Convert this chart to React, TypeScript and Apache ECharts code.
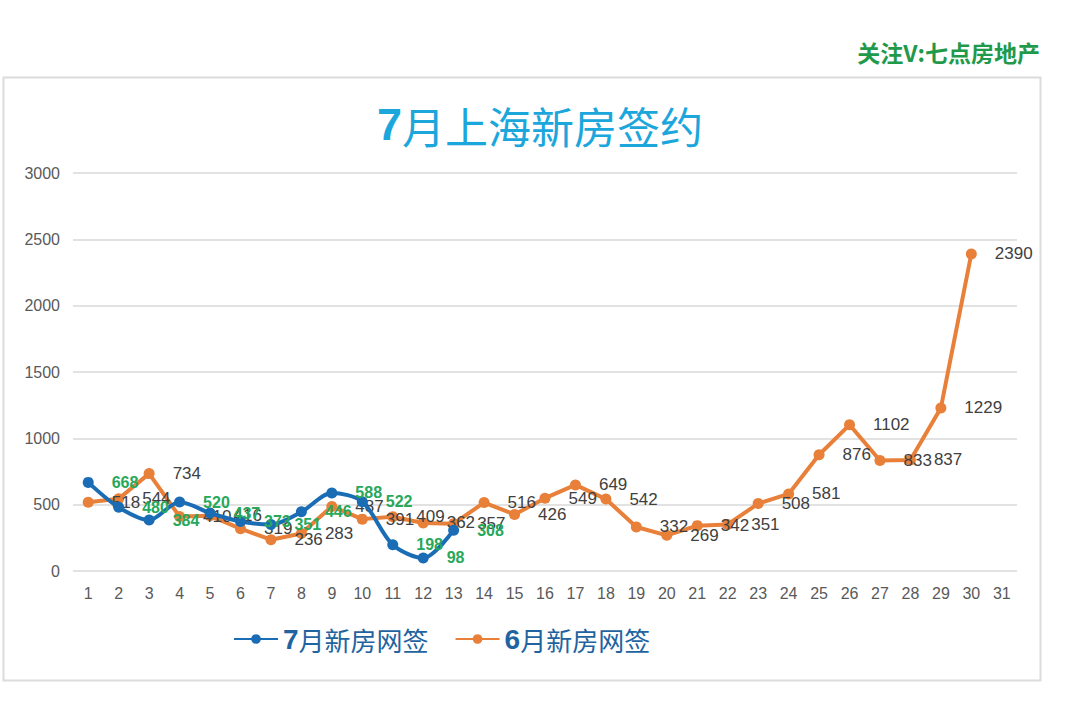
import React, { useEffect, useRef } from "react";
import * as echarts from "echarts";

const days = Array.from({ length: 31 }, (_, i) => String(i + 1));
const julyValues = [668, 480, 384, 520, 437, 373, 351, 446, 588, 522, 198, 98, 308];
const juneValues = [518, 544, 734, 410, 416, 319, 236, 283, 487, 391, 409, 362, 357, 516, 426, 549, 649, 542, 332, 269, 342, 351, 508, 581, 876, 1102, 833, 837, 1229, 2390];
const yTicks = { min: 0, max: 3000, interval: 500 };
const watermark = "关注V:七点房地产";
const julyName = "7月新房网签";
const juneName = "6月新房网签";

export default function App() {
  const ref = useRef<HTMLDivElement>(null);
  useEffect(() => {
    if (!ref.current) return;
    const chart = echarts.init(ref.current, undefined, { renderer: "svg" });
    const font = "Liberation Sans, Arial, Noto Sans CJK SC, sans-serif";
    const cjk = "Noto Sans CJK SC";
    chart.setOption({
      animation: false,
      backgroundColor: "#ffffff",
      textStyle: { fontFamily: font },
      graphic: [
        {
          type: "rect",
          shape: { x: 3.5, y: 77.5, width: 1037, height: 603 },
          style: { fill: "none", stroke: "#dcdcdc", lineWidth: 2 },
          silent: true,
        },
        {
          type: "text",
          right: 40,
          top: 40,
          style: {
            text: watermark,
            fill: "#1f9a4b",
            font: "bold 23px 'Noto Sans CJK SC', sans-serif",
          },
        },
      ],
      title: {
        text: "{b|7}{n|月上海新房签约}",
        left: "center",
        top: 97,
        textStyle: {
          rich: {
            b: { fontSize: 45, fontWeight: "bold", color: "#1ba6dc", fontFamily: font },
            n: { fontSize: 43, fontWeight: "normal", color: "#1ba6dc", fontFamily: cjk },
          },
        },
      },
      legend: {
        data: [julyName, juneName],
        left: 228,
        top: 620,
        itemWidth: 44,
        itemHeight: 12,
        itemGap: 26,
        formatter: (name: string) => `{b|${name.slice(0, 1)}}{n|${name.slice(1)}}`,
        textStyle: {
          color: "#1f64a0",
          rich: {
            b: { fontSize: 28, fontWeight: "bold", color: "#1f64a0", fontFamily: font },
            n: { fontSize: 26, color: "#1f64a0", fontFamily: cjk },
          },
        },
      },
      grid: { left: 73, right: 63, top: 173, bottom: 130 },
      xAxis: {
        type: "category",
        data: days,
        boundaryGap: true,
        axisLine: { show: false },
        axisTick: { show: false },
        axisLabel: { color: "#595959", fontSize: 16, margin: 14 },
      },
      yAxis: {
        type: "value",
        min: yTicks.min,
        max: yTicks.max,
        interval: yTicks.interval,
        axisLine: { show: false },
        axisTick: { show: false },
        axisLabel: { color: "#595959", fontSize: 16, margin: 13, formatter: (v: number) => String(v) },
        splitLine: { lineStyle: { color: "#d9d9d9", width: 1.5 } },
      },
      series: [
        {
          name: juneName,
          type: "line",
          data: juneValues,
          symbol: "circle",
          symbolSize: 11,
          itemStyle: { color: "#e8803a" },
          lineStyle: { color: "#e8803a", width: 4 },
          label: {
            show: true,
            position: "right",
            distance: 18,
            color: "#404040",
            fontSize: 17,
          },
          z: 2,
        },
        {
          name: julyName,
          type: "line",
          data: julyValues,
          smooth: 0.3,
          symbol: "circle",
          symbolSize: 11,
          itemStyle: { color: "#1a6db5" },
          lineStyle: { color: "#1a6db5", width: 4 },
          label: {
            show: true,
            position: "right",
            distance: 18,
            color: "#27a85a",
            fontSize: 16,
            fontWeight: "bold",
          },
          z: 3,
        },
      ],
    });
    return () => chart.dispose();
  }, []);
  return (
    <div
      ref={ref}
      style={{ position: "fixed", left: 0, top: 0, width: 1080, height: 701 }}
    />
  );
}
